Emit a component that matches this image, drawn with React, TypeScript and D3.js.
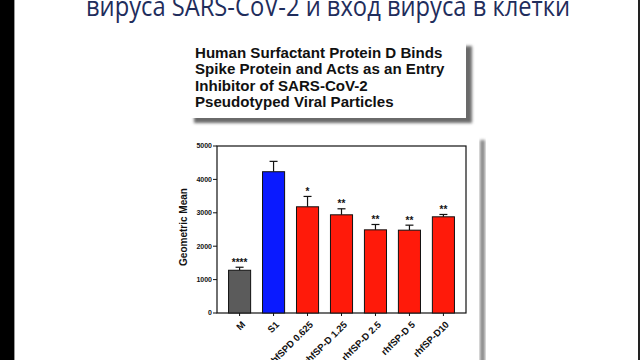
import React from "react";
import * as d3 from "d3";

const categories = ["M", "S1", "rhfSPD 0.625", "rhfSP-D 1.25", "rhfSP-D 2.5", "rhfSP-D 5", "rhfSP-D10"];
const means = [1280, 4230, 3180, 2940, 2490, 2480, 2880];
const sem = [90, 310, 310, 180, 160, 150, 70];
const stars = ["****", "", "*", "**", "**", "**", "**"];
const barColors = ["#5b5b5b", "#0a1aff", "#ff1a0a", "#ff1a0a", "#ff1a0a", "#ff1a0a", "#ff1a0a"];
const yTicks = [0, 1000, 2000, 3000, 4000, 5000];
const slideTitle = "вируса SARS-CoV-2 и вход вируса в клетки";
const boxTitle = [
  "Human Surfactant Protein D Binds",
  "Spike Protein and Acts as an Entry",
  "Inhibitor of SARS-CoV-2",
  "Pseudotyped Viral Particles",
];
const yLabel = "Geometric Mean";

export default function App() {
  const W = 640, H = 360;
  const left = 217, right = 466, top = 146, bottom = 313;
  const x = d3.scaleBand<string>().domain(categories).range([left, right]).paddingInner(0.35).paddingOuter(0.34);
  const y = d3.scaleLinear().domain([0, 5000]).range([bottom, top]);
  const bw = x.bandwidth();
  const font = "'Liberation Sans', Arial, Helvetica, sans-serif";

  return (
    <div style={{ position: "absolute", left: 0, top: 0 }}>
      <svg width={W} height={H} style={{ display: "block" }}>
        <defs>
          <filter id="blur" x="-20%" y="-20%" width="140%" height="140%">
            <feGaussianBlur stdDeviation="1.5" />
          </filter>
        </defs>
        <rect x={0} y={0} width={W} height={H} fill="#ffffff" />
        {/* slide edges */}
        <rect x={0} y={0} width={14} height={H} fill="#000" />
        <rect x={14} y={0} width={1} height={H} fill="#999" />
        <rect x={638} y={0} width={2} height={H} fill="#222" />

        {/* slide title */}
        <text x={86} y={16} fontFamily="'Open Sans', 'Noto Sans', sans-serif" fontSize={28} fill="#1f2d5c"
          textLength={484} lengthAdjust="spacingAndGlyphs">{slideTitle}</text>

        {/* title box with shadow */}
        <rect x={194} y={46} width={278} height={77} fill="#6a6a6a" filter="url(#blur)" />
        <rect x={188} y={40} width={278} height={78} fill="#ffffff" />
        {boxTitle.map((t, i) => (
          <text key={i} x={195} y={57.5 + i * 16.6} fontFamily={font} fontWeight="bold" fontSize={15.1} fill="#111">{t}</text>
        ))}

        {/* chart image shadow on right */}
        <rect x={480} y={140} width={5} height={230} fill="#8a8a8a" filter="url(#blur)" />

        {/* plot frame */}
        <rect x={left} y={top} width={right - left} height={bottom - top} fill="none" stroke="#111" strokeWidth={1.2} />

        {/* y axis ticks */}
        {yTicks.map((t) => (
          <g key={t}>
            <line x1={left - 4} x2={left} y1={y(t)} y2={y(t)} stroke="#111" strokeWidth={1} />
            <text x={left - 5} y={y(t)} dy="0.35em" textAnchor="end" fontFamily={font} fontWeight="bold" fontSize={7} fill="#111">{t}</text>
          </g>
        ))}
        <text transform={`translate(183,227) rotate(-90)`} textAnchor="middle" dy="0.35em" fontFamily={font} fontWeight="bold" fontSize={10} fill="#111">{yLabel}</text>

        {/* bars */}
        {categories.map((c, i) => {
          const bx = x(c)!;
          const cx = bx + bw / 2;
          const errTop = y(means[i] + sem[i]);
          return (
            <g key={c}>
              <line x1={cx} x2={cx} y1={y(means[i])} y2={errTop} stroke="#111" strokeWidth={1.2} />
              <line x1={cx - 4} x2={cx + 4} y1={errTop} y2={errTop} stroke="#111" strokeWidth={1.2} />
              <rect x={bx} y={y(means[i])} width={bw} height={y(0) - y(means[i])} fill={barColors[i]} stroke="#111" strokeWidth={1} />
              {stars[i] && (
                <text x={cx} y={errTop - 1.5} textAnchor="middle" fontFamily={font} fontWeight="bold" fontSize={10} fill="#111">{stars[i]}</text>
              )}
              <line x1={cx} x2={cx} y1={bottom} y2={bottom + 3} stroke="#111" strokeWidth={1} />
              <text transform={`translate(${cx + 1.5},${bottom + 7.5}) rotate(-45)`} textAnchor="end" dy="0.7em"
                fontFamily={font} fontWeight="bold" fontSize={9.5} fill="#111">{c}</text>
            </g>
          );
        })}
      </svg>
    </div>
  );
}
